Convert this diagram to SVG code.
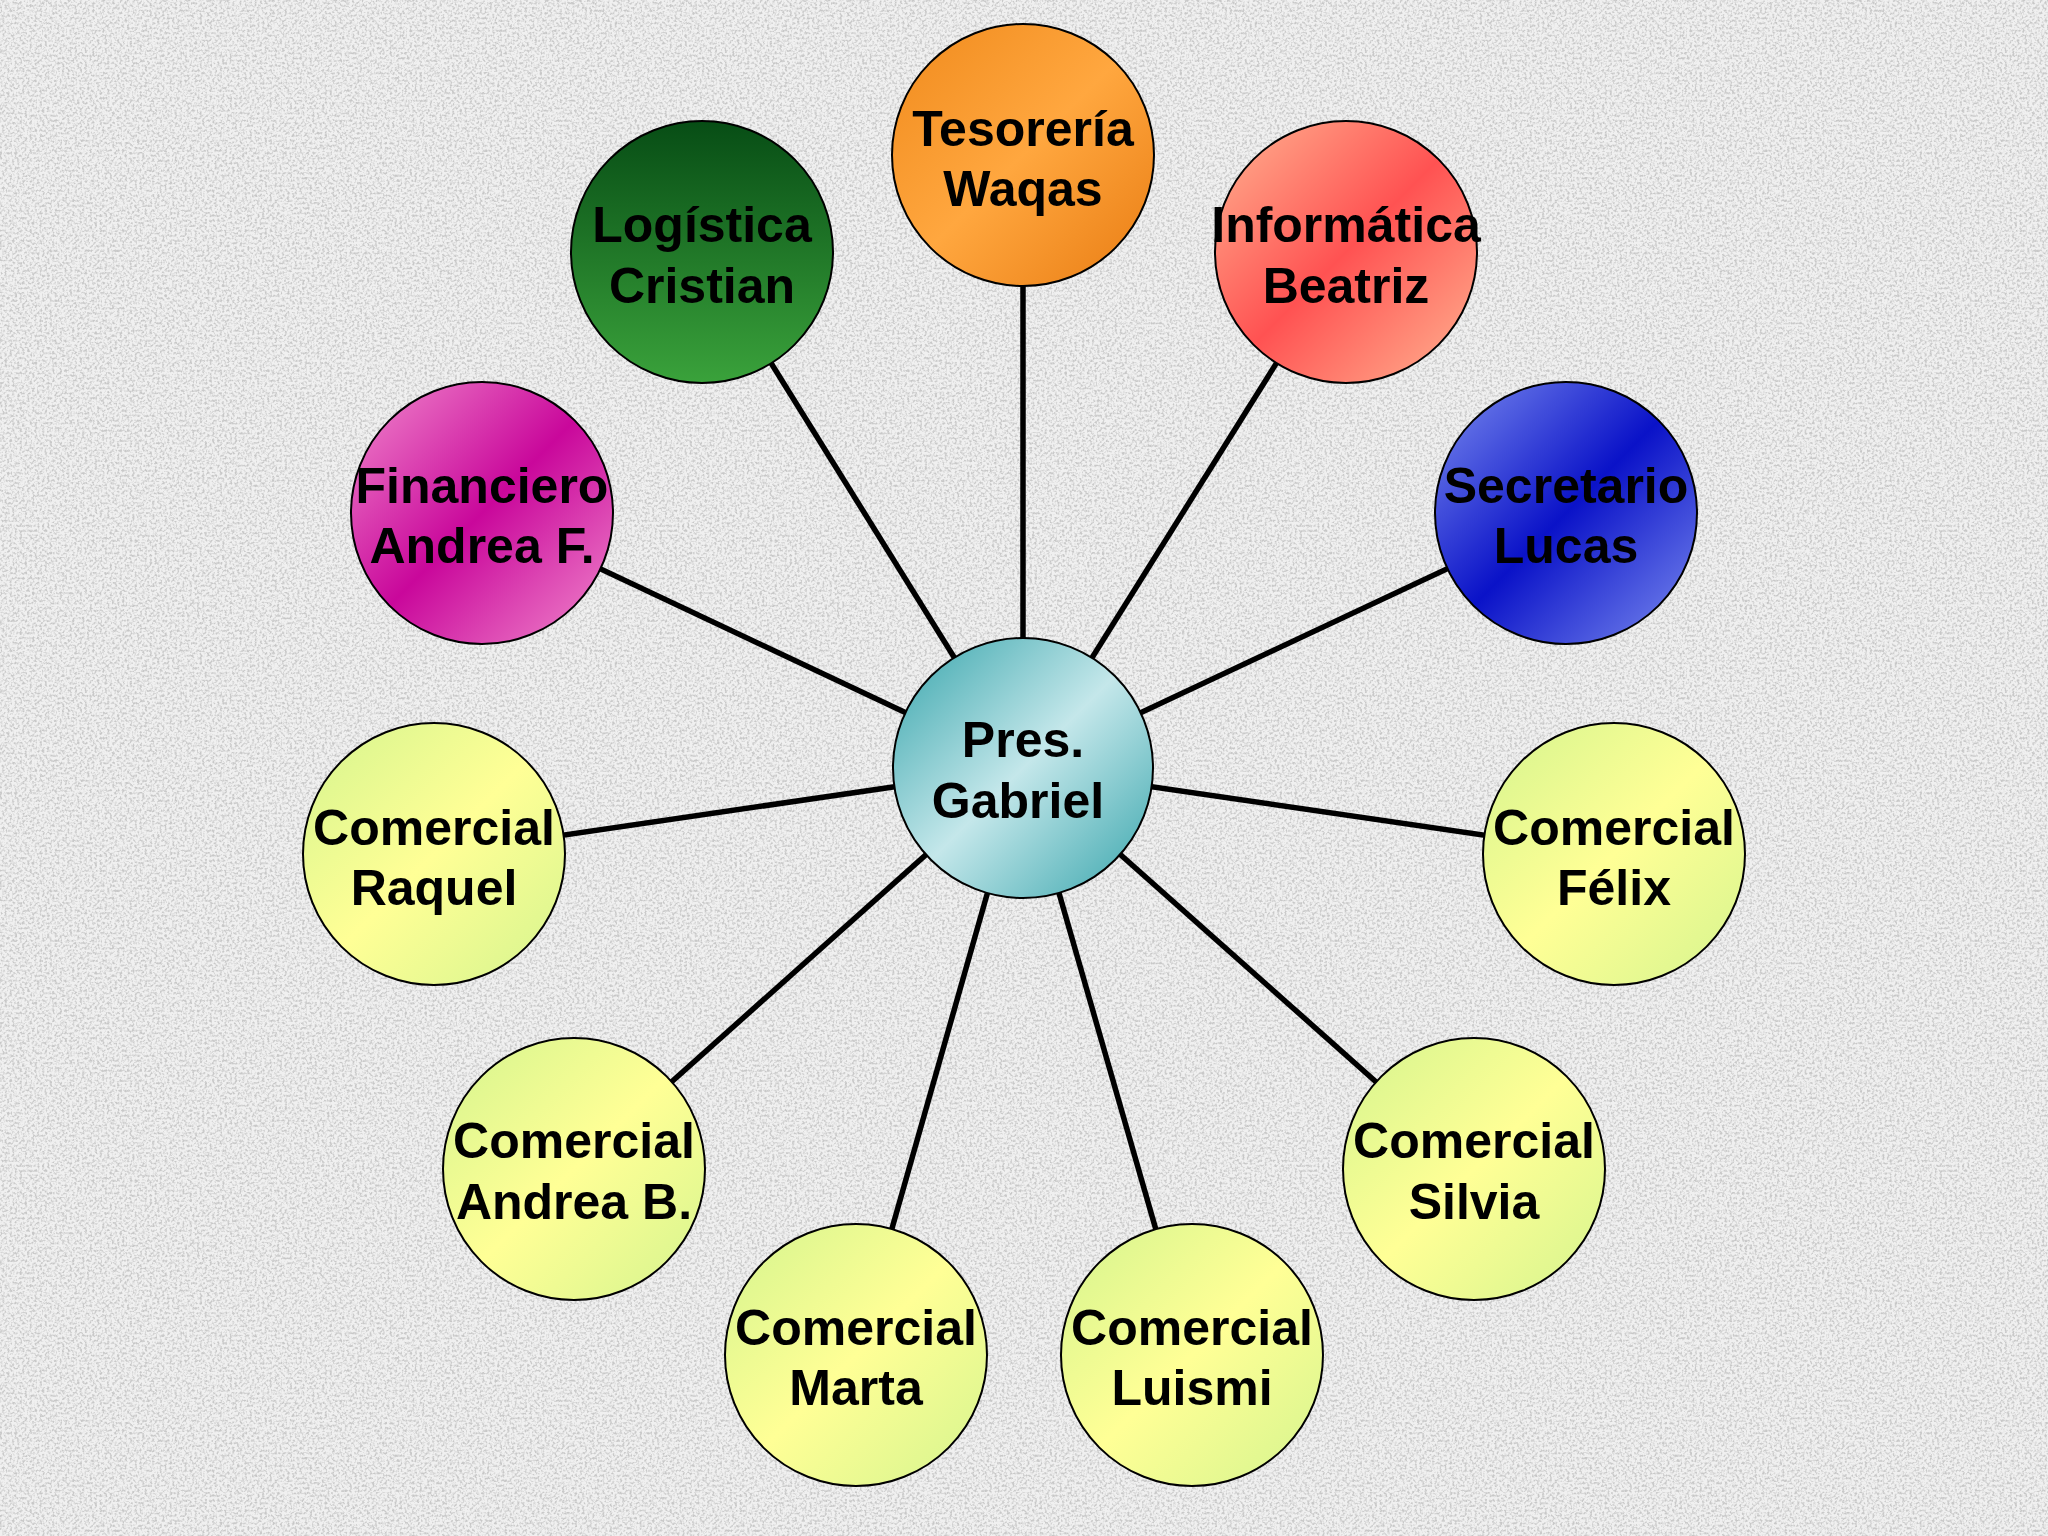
<svg xmlns="http://www.w3.org/2000/svg" width="2048" height="1536" viewBox="0 0 2048 1536">
<defs>
<style>
.node circle{stroke:#000;stroke-width:2}
.node text{font-family:"Liberation Sans",Arial,sans-serif;font-weight:bold;font-size:50px;fill:#000;text-anchor:middle}
.conn line{stroke:#000;stroke-width:5.5}
</style>
<filter id="noise" x="0" y="0" width="100%" height="100%">
<feTurbulence type="fractalNoise" baseFrequency="0.4" numOctaves="2" seed="7" result="t"/>
<feColorMatrix in="t" type="matrix" values="0 0 0 0 0.58  0 0 0 0 0.58  0 0 0 0 0.58  0 0 0 3.2 -1.4"/>
</filter>
<linearGradient id="gOrange" x1="0" y1="0" x2="1" y2="1">
<stop offset="0" stop-color="#f08a1c"/><stop offset="0.5" stop-color="#ffa73f"/><stop offset="1" stop-color="#e97c12"/>
</linearGradient>
<linearGradient id="gGreen" x1="0" y1="0" x2="0" y2="1">
<stop offset="0" stop-color="#074d15"/><stop offset="1" stop-color="#3aa23b"/>
</linearGradient>
<linearGradient id="gRed" x1="0" y1="0" x2="1" y2="1">
<stop offset="0" stop-color="#ffb592"/><stop offset="0.5" stop-color="#ff5252"/><stop offset="1" stop-color="#ffb592"/>
</linearGradient>
<linearGradient id="gMagenta" x1="0" y1="0" x2="1" y2="1">
<stop offset="0" stop-color="#f28ccd"/><stop offset="0.5" stop-color="#c9079b"/><stop offset="1" stop-color="#f28ccd"/>
</linearGradient>
<linearGradient id="gBlue" x1="0" y1="0" x2="1" y2="1">
<stop offset="0" stop-color="#7d8ef0"/><stop offset="0.5" stop-color="#0a12c8"/><stop offset="1" stop-color="#7d8ef0"/>
</linearGradient>
<linearGradient id="gTeal" x1="0" y1="0" x2="1" y2="1">
<stop offset="0" stop-color="#35a4ab"/><stop offset="0.5" stop-color="#c4e7ea"/><stop offset="1" stop-color="#35a4ab"/>
</linearGradient>
<linearGradient id="gYellow" x1="0" y1="0" x2="1" y2="1">
<stop offset="0" stop-color="#d4f48e"/><stop offset="0.5" stop-color="#ffff96"/><stop offset="1" stop-color="#d4f48e"/>
</linearGradient>
</defs>
<rect width="2048" height="1536" fill="#f0f0f0"/>
<rect width="2048" height="1536" filter="url(#noise)"/>
<g class="conn">
<line x1="1023" y1="768" x2="1023" y2="155"/>
<line x1="1023" y1="768" x2="702" y2="252"/>
<line x1="1023" y1="768" x2="1346" y2="252"/>
<line x1="1023" y1="768" x2="482" y2="513"/>
<line x1="1023" y1="768" x2="1566" y2="513"/>
<line x1="1023" y1="768" x2="434" y2="854"/>
<line x1="1023" y1="768" x2="1614" y2="854"/>
<line x1="1023" y1="768" x2="574" y2="1169"/>
<line x1="1023" y1="768" x2="1474" y2="1169"/>
<line x1="1023" y1="768" x2="856" y2="1355"/>
<line x1="1023" y1="768" x2="1192" y2="1355"/>
</g>
<g id="tesoreria" class="node"><circle cx="1023" cy="155" r="131" fill="url(#gOrange)"/><text x="1023" y="146">Tesorería</text><text x="1023" y="206">Waqas</text></g>
<g id="logistica" class="node"><circle cx="702" cy="252" r="131" fill="url(#gGreen)"/><text x="702" y="242">Logística</text><text x="702" y="303">Cristian</text></g>
<g id="informatica" class="node"><circle cx="1346" cy="252" r="131" fill="url(#gRed)"/><text x="1346" y="242">Informática</text><text x="1346" y="303">Beatriz</text></g>
<g id="financiero" class="node"><circle cx="482" cy="513" r="131" fill="url(#gMagenta)"/><text x="482" y="503">Financiero</text><text x="482" y="563">Andrea F.</text></g>
<g id="secretario" class="node"><circle cx="1566" cy="513" r="131" fill="url(#gBlue)"/><text x="1566" y="503">Secretario</text><text x="1566" y="563">Lucas</text></g>
<g id="presidente" class="node"><circle cx="1023" cy="768" r="130" fill="url(#gTeal)"/><text x="1023" y="757">Pres.</text><text x="1018" y="818">Gabriel</text></g>
<g id="raquel" class="node"><circle cx="434" cy="854" r="131" fill="url(#gYellow)"/><text x="434" y="845">Comercial</text><text x="434" y="905">Raquel</text></g>
<g id="felix" class="node"><circle cx="1614" cy="854" r="131" fill="url(#gYellow)"/><text x="1614" y="845">Comercial</text><text x="1614" y="905">Félix</text></g>
<g id="andreab" class="node"><circle cx="574" cy="1169" r="131" fill="url(#gYellow)"/><text x="574" y="1158">Comercial</text><text x="574" y="1219">Andrea B.</text></g>
<g id="silvia" class="node"><circle cx="1474" cy="1169" r="131" fill="url(#gYellow)"/><text x="1474" y="1158">Comercial</text><text x="1474" y="1219">Silvia</text></g>
<g id="marta" class="node"><circle cx="856" cy="1355" r="131" fill="url(#gYellow)"/><text x="856" y="1345">Comercial</text><text x="856" y="1405">Marta</text></g>
<g id="luismi" class="node"><circle cx="1192" cy="1355" r="131" fill="url(#gYellow)"/><text x="1192" y="1345">Comercial</text><text x="1192" y="1405">Luismi</text></g>
</svg>
